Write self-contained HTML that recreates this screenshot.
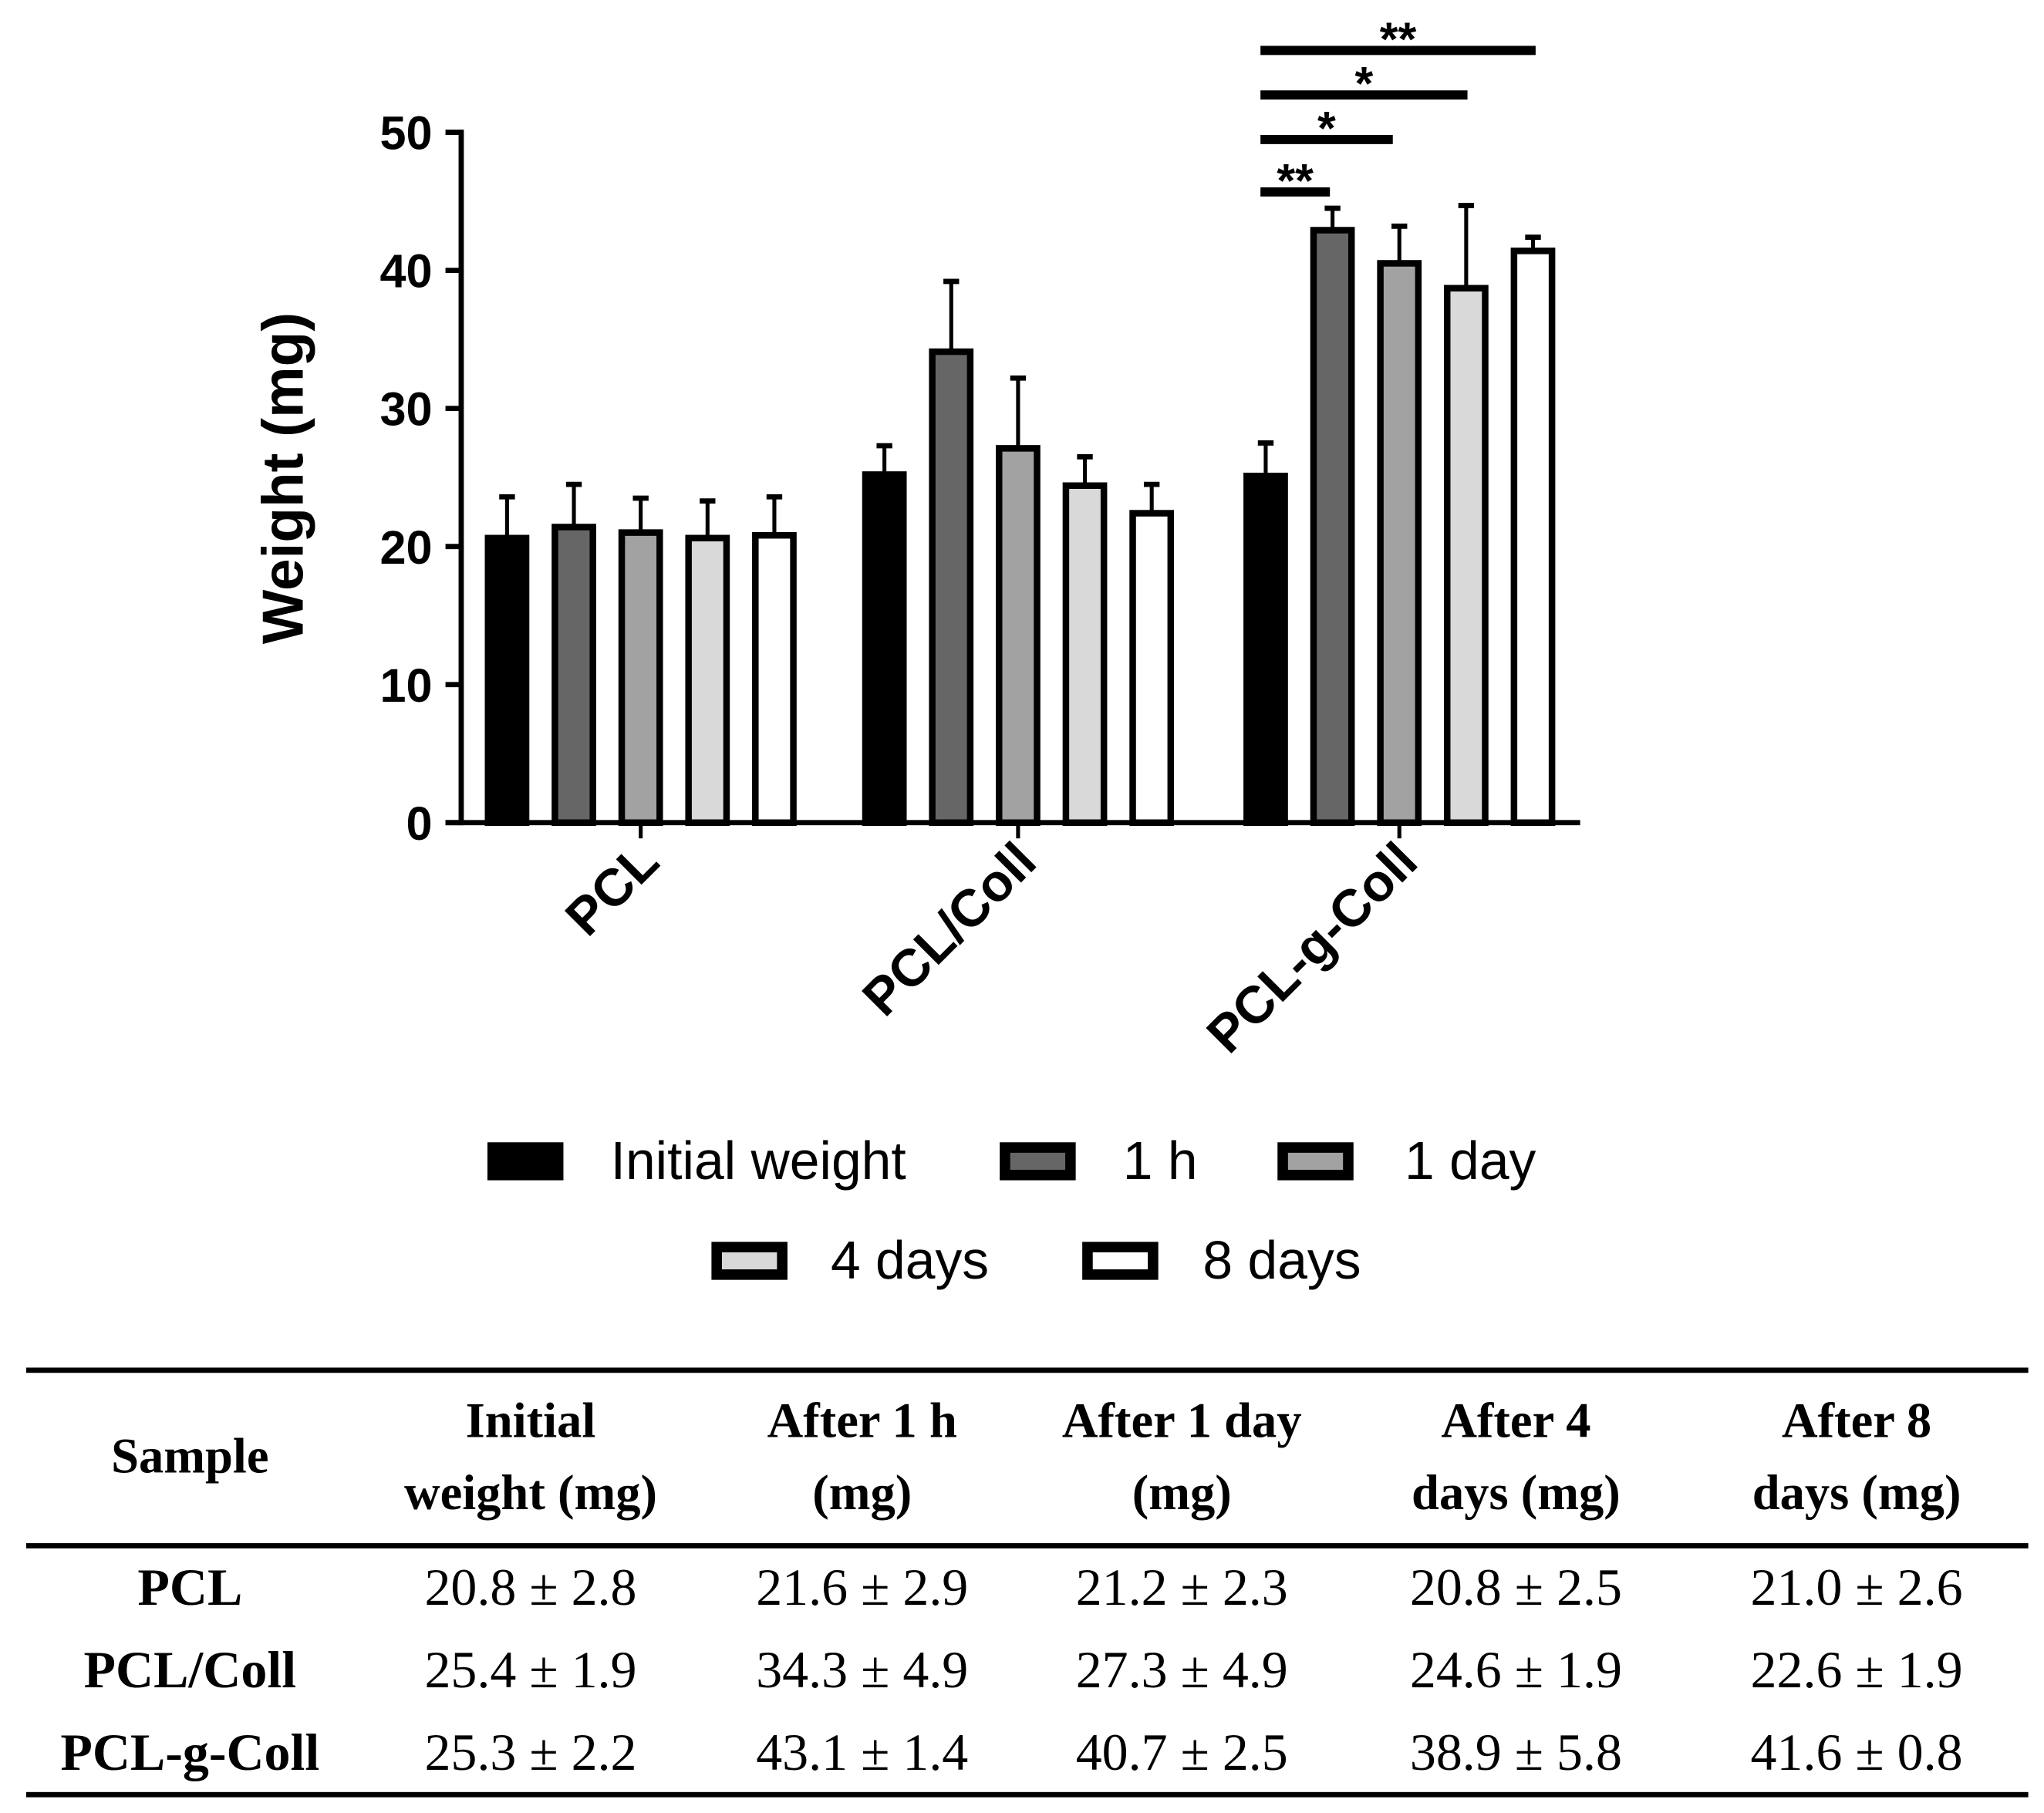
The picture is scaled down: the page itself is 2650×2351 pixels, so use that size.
<!DOCTYPE html>
<html><head><meta charset="utf-8"><style>
html,body{margin:0;padding:0;background:#fff}
svg{display:block}
</style></head><body>
<svg id="chart" width="2650" height="2351" viewBox="0 0 1560 1384" preserveAspectRatio="none" xmlns="http://www.w3.org/2000/svg" font-family="Liberation Sans, Arial, sans-serif">
<g id="plot"></g>
<g id="legend"></g>
<g id="table" font-family="Liberation Serif, serif"></g>
</svg>
<script>
const groups = ["PCL","PCL/Coll","PCL-g-Coll"];
const seriesNames = ["Initial weight","1 h","1 day","4 days","8 days"];
const initialW = [20.8,25.4,25.3];
const h1W = [21.6,34.3,43.1];
const d1W = [21.2,27.3,40.7];
const d4W = [20.8,24.6,38.9];
const d8W = [21.0,22.6,41.6];
const initialE = [2.8,1.9,2.2];
const h1E = [2.9,4.9,1.4];
const d1E = [2.3,4.9,2.5];
const d4E = [2.5,1.9,5.8];
const d8E = [2.6,1.9,0.8];
const yTicks = [0,10,20,30,40,50];
const sigLabels = ["**","*","*","**"];
const sigTargets = [1,2,3,4];

const values=[initialW,h1W,d1W,d4W,d8W], errs=[initialE,h1E,d1E,d4E,d8E];
const fills=["#000","#666","#a2a2a2","#d9d9d9","#fff"];
const NS="http://www.w3.org/2000/svg";
function mk(p,t,a,txt){const e=document.createElementNS(NS,t);for(const k in a)e.setAttribute(k,a[k]);if(txt!==undefined)e.textContent=txt;p.appendChild(e);return e;}
const y0=628,y50=101;
const Y=v=>y0-(y0-y50)*v/50;
const gc=[489,777,1068], bstep=51, bw=33;
const X=(g,s)=>gc[g]+(s-2)*bstep;
const plot=document.getElementById('plot');

for(let s=0;s<5;s++)for(let g=0;g<3;g++){
  const v=values[s][g],e=errs[s][g],cx=X(g,s);
  const eb=mk(plot,'g',{});
  
  
  mk(eb,'line',{x1:cx,x2:cx,y1:Y(v),y2:Y(v+e),stroke:'#000','stroke-width':3});
  mk(eb,'line',{x1:cx-6,x2:cx+6,y1:Y(v+e),y2:Y(v+e),stroke:'#000','stroke-width':4});
  const r=mk(plot,'rect',{x:cx-bw/2+2,y:Y(v)+2,width:bw-4,height:Math.max(0,y0-Y(v)-2),fill:fills[s],stroke:'#000','stroke-width':5});
  
  
}
const ax=mk(plot,'g',{});


mk(ax,'line',{x1:352,x2:352,y1:99,y2:630,stroke:'#000','stroke-width':4});
mk(ax,'line',{x1:340,x2:1206,y1:628,y2:628,stroke:'#000','stroke-width':4});
yTicks.forEach(t=>{
  mk(ax,'line',{x1:340,x2:352,y1:Y(t),y2:Y(t),stroke:'#000','stroke-width':4});
  const tx=mk(ax,'text',{x:330,y:Y(t)+13,'text-anchor':'end','font-size':36,'font-weight':'bold'},t);
  
  
});
groups.forEach((g,i)=>{
  mk(ax,'line',{x1:gc[i],x2:gc[i],y1:628,y2:640,stroke:'#000','stroke-width':3});
  const tx=mk(ax,'text',{x:0,y:0,transform:`translate(${gc[i]+16},${660}) rotate(-45)`,'text-anchor':'end','font-size':40,'font-weight':'bold'},g);
  
  
});
const yt=mk(ax,'text',{x:0,y:0,transform:'translate(231,365) rotate(-90)','text-anchor':'middle','font-size':44,'font-weight':'bold'},'Weight (mg)');


const sigY=[146,106,72,38];
const sigEnd=[1015,1063,1120,1172];
sigTargets.forEach((t,i)=>{
  const sg=mk(plot,'g',{});
  
  
  const x1=962,x2=sigEnd[i]+(X(2,t)-X(2,sigTargets[i]));
  mk(sg,'rect',{x:x1,y:sigY[i]-3,width:x2-x1,height:7,fill:'#000'});
  mk(sg,'text',{x:(x1+x2)/2,y:sigY[i]+4,'text-anchor':'middle','font-size':36,'font-weight':'bold'},sigLabels[i]);
});
const leg=document.getElementById('legend');
const lpos=[[372,886,466],[763,886,857],[975,886,1072],[543,962,634],[826,962,918]];
seriesNames.forEach((n,i)=>{
  const [sx,cy,tx]=lpos[i];
  const e=mk(leg,'g',{});
  
  
  mk(e,'rect',{x:sx+4,y:cy-10,width:50,height:21,fill:fills[i],stroke:'#000','stroke-width':8});
  mk(e,'text',{x:tx,y:cy+14,'font-size':41},n);
});
const tb=document.getElementById('table');
[1046,1180,1370].forEach(y=>mk(tb,'rect',{x:20,y:y-2,width:1528,height:4,fill:'#000'}));
const cols=[145,405,658,902,1157,1417];
const hdr=[["Sample"],["Initial","weight (mg)"],["After 1 h","(mg)"],["After 1 day","(mg)"],["After 4","days (mg)"],["After 8","days (mg)"]];
hdr.forEach((h,i)=>{
  if(h.length===1){mk(tb,'text',{x:cols[i],y:1124,'text-anchor':'middle','font-size':38,'font-weight':'bold'},h[0]);}
  else{mk(tb,'text',{x:cols[i],y:1097,'text-anchor':'middle','font-size':38,'font-weight':'bold'},h[0]);
       mk(tb,'text',{x:cols[i],y:1152,'text-anchor':'middle','font-size':38,'font-weight':'bold'},h[1]);}
});
const rowY=[1225,1288,1351];
groups.forEach((g,r)=>{
  mk(tb,'text',{x:cols[0],y:rowY[r],'text-anchor':'middle','font-size':40,'font-weight':'bold'},g);
  for(let s=0;s<5;s++){
    mk(tb,'text',{x:cols[s+1],y:rowY[r],'text-anchor':'middle','font-size':40},values[s][r].toFixed(1)+' ± '+errs[s][r].toFixed(1));
  }
});
</script>
</body></html>
